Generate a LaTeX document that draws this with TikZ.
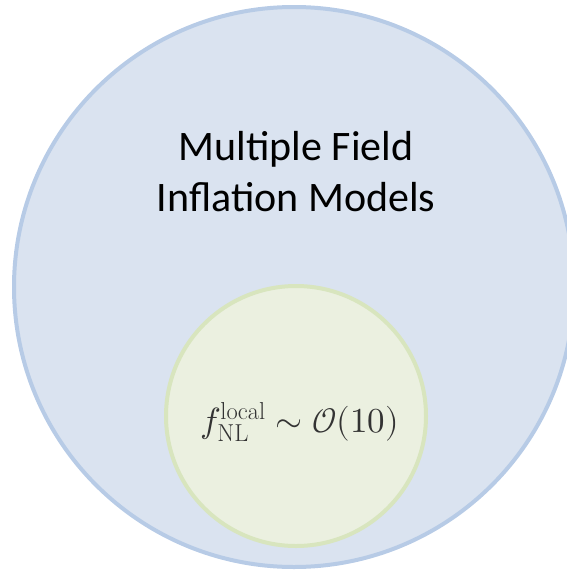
\documentclass[tikz,border=0pt]{standalone}
\usepackage{fontspec}
\usepackage{unicode-math}
\setmainfont{Carlito}
\setmathfont{Latin Modern Math}
\setmathrm{Latin Modern Roman}
\definecolor{bigfill}{HTML}{DAE3F0}
\definecolor{bigline}{HTML}{B7CBE6}
\definecolor{smallfill}{HTML}{EBF0E0}
\definecolor{smallline}{HTML}{D8E5BE}
\begin{document}
\begin{tikzpicture}[x=1pt,y=-1pt,
  outer/.style={circle,fill=bigfill,draw=bigline,line width=4pt,minimum size=560pt,inner sep=0pt},
  inner/.style={circle,fill=smallfill,draw=smallline,line width=4pt,minimum size=260pt,inner sep=0pt},
  lbl/.style={font=\fontsize{42}{51}\selectfont,align=center,text=black,anchor=base,inner sep=0pt}]
\useasboundingbox (0,0) rectangle (567,573);
\node[outer] (big) at (294,287) {};
\node[inner] (small) at (296,416) {};
\node[lbl] (title) at (296,211) {Multiple Field\\Inflation Models};
\node[font=\fontsize{35}{40}\selectfont,text=black!80,anchor=base,inner sep=0pt] (eq) at (299.5,432) {$f_{\mathrm{NL}}^{\mathrm{local}}\sim\mathcal{O}(10)$};
\end{tikzpicture}
\end{document}
